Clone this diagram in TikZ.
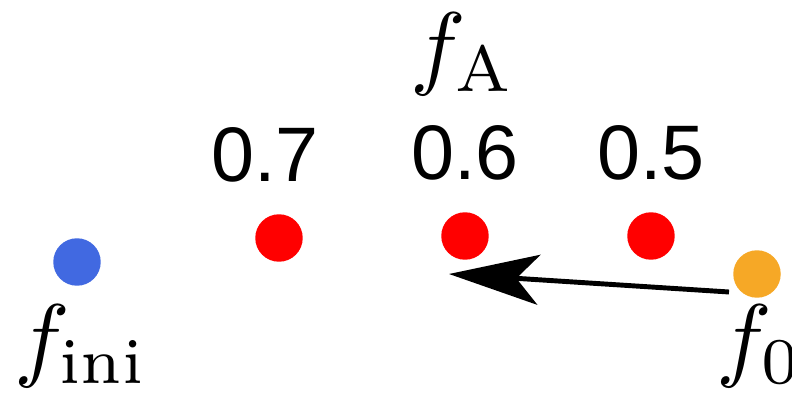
\documentclass[tikz,border=0pt]{standalone}
\usepackage{fontspec}
\newfontfamily\numfont{Liberation Sans}
\usepackage{tikz}
\usetikzlibrary{arrows.meta, positioning}

\definecolor{iniblue}{RGB}{65,105,225}
\definecolor{zeroorange}{RGB}{246,168,38}

\begin{document}
\begin{tikzpicture}[
    x=0.02cm, y=-0.02cm,
    dot/.style={circle, inner sep=0pt, minimum size=0.95cm},
    value/.style={inner sep=0pt, font=\fontsize{44}{48}\selectfont\numfont},
    fname/.style={inner sep=0pt, scale=5.3},
    arrow/.style={-{Stealth[length=1.8cm, width=1cm, inset=0.45cm]}, line width=2.8pt}
]
\useasboundingbox (0,0) rectangle (792,395);

% Points
\node[dot, fill=iniblue] (ini) at (77,262) {};
\node[dot, fill=red] (r1) at (279,238) {};
\node[dot, fill=red] (r2) at (465,236) {};
\node[dot, fill=red] (r3) at (651,236) {};
\node[dot, fill=zeroorange] (zero) at (757,274) {};

% Values above the red points
\node[value, above=0.62cm of r1, xshift=-0.28cm] (v1) {0.7};
\node[value, above=0.62cm of r2] (v2) {0.6};
\node[value, above=0.62cm of r3] (v3) {0.5};

% Names
\node[fname] (fa) at (463,54) {$f_{\mathrm{A}}$};
\node[fname] (fini) at (81,346) {$f_{\mathrm{ini}}$};
\node[fname] (fzero) at (760,346) {$f_0$};

% Arrow
\coordinate (tail) at (729,292);
\coordinate (tip) at (449,274);
\draw[arrow] (tail) -- (tip);

\end{tikzpicture}
\end{document}
